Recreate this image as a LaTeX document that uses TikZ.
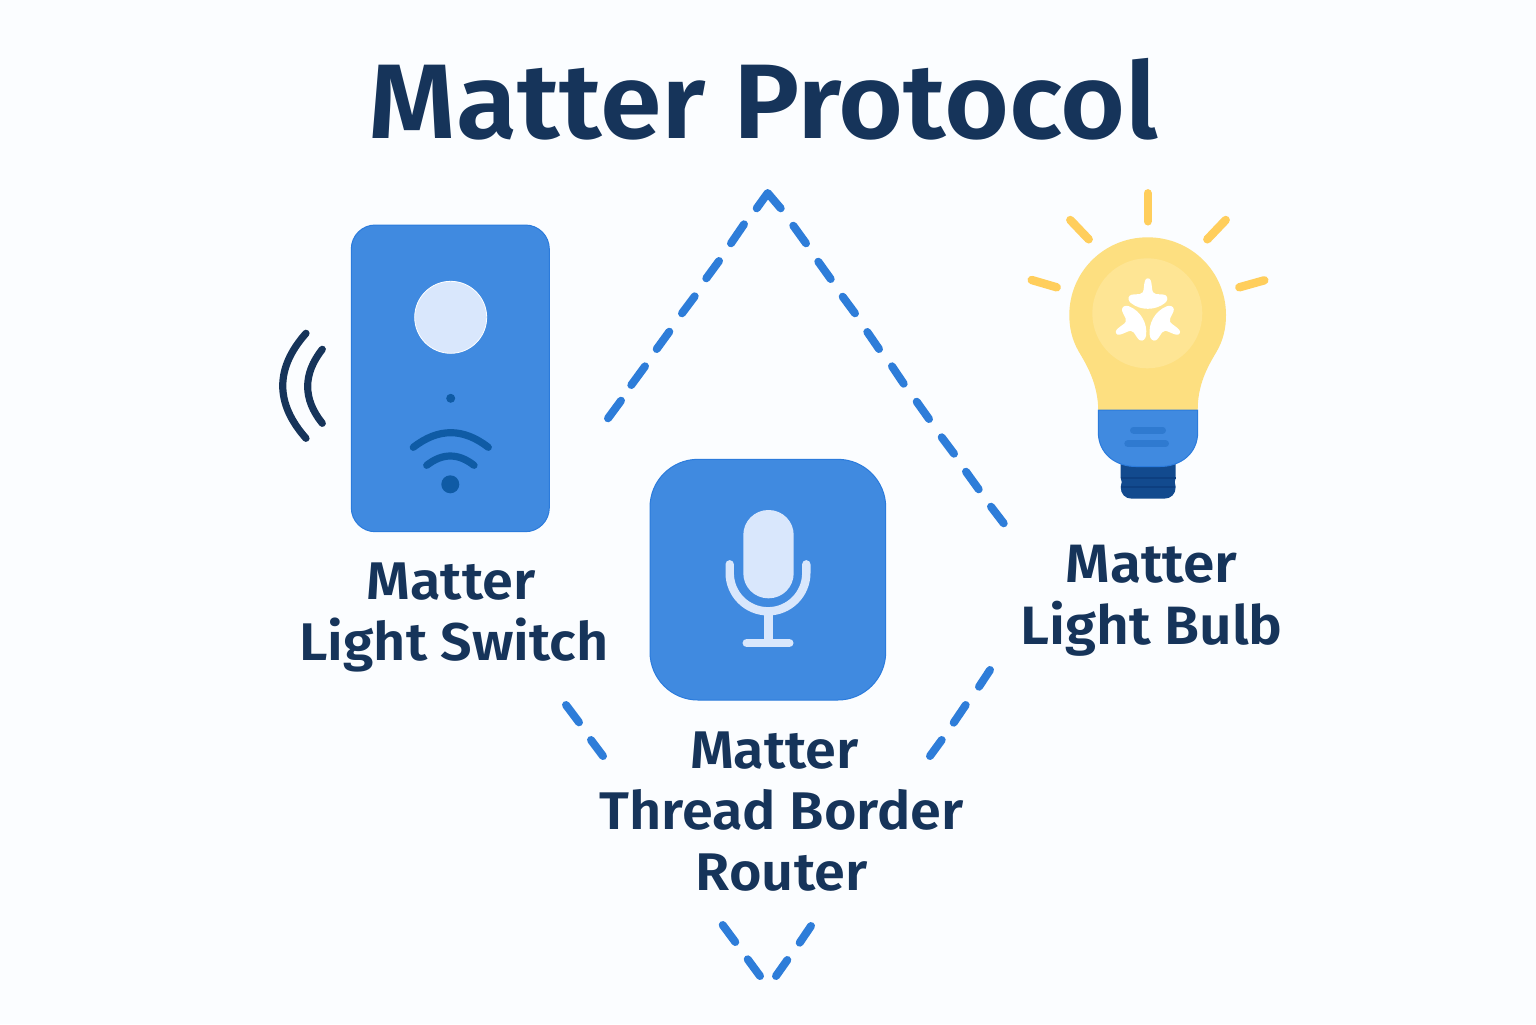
\documentclass[tikz,border=0pt]{standalone}
\usepackage{fontspec}
\setmainfont{Fira Sans}
\newfontfamily\labelfont[FakeStretch=1.053]{Fira Sans SemiBold}
\definecolor{bgc}{HTML}{FBFDFF}
\definecolor{navy}{HTML}{16345A}
\definecolor{panel}{HTML}{408AE0}
\definecolor{edgeblue}{HTML}{2B7BDC}
\definecolor{dashblue}{HTML}{2E7DD9}
\definecolor{deep}{HTML}{0F5BA5}
\definecolor{pale}{HTML}{D9E7FC}
\definecolor{bulby}{HTML}{FDDF80}
\definecolor{bulbin}{HTML}{FEE594}
\definecolor{rayc}{HTML}{FFCE5C}
\definecolor{screwc}{HTML}{124A8E}
\definecolor{screwd}{HTML}{0D3F80}
\definecolor{stripe}{HTML}{2F7AD0}
\tikzset{
  px/.style={x=0.5pt,y=-0.5pt},
  panelbox/.style={fill=panel,draw=edgeblue,line width=0.5pt},
  dashseg/.style={draw=dashblue,line width=4pt,line cap=round,line join=round},
  wave/.style={draw=navy,line width=3.6pt,line cap=round},
  wifi/.style={draw=deep,line width=3.6pt,line cap=round},
  ray/.style={draw=rayc,line width=4.2pt,line cap=round},
  micline/.style={draw=pale,line width=4.2pt,line cap=round},
  titletext/.style={text=navy,inner sep=0pt,anchor=base,font=\labelfont\fontsize{53}{60}\selectfont},
  labeltext/.style={text=navy,inner sep=0pt,anchor=base,align=center,font=\labelfont\fontsize{26.5}{30.5}\selectfont},
}
\begin{document}
\begin{tikzpicture}[px]
\useasboundingbox (0,0) rectangle (1536,1024);
\fill[bgc] (0,0) rectangle (1536,1024);
% title
\node[titletext] (title) at (763.5,138) {Matter Protocol};
% dashed diamond
\draw[dashseg] (756.7,208.3) -- (767.7,193) -- (780.7,208.3);
\foreach \ax/\ay/\bx/\by in {
 744/224.3/731/243.3, 719/261/706.3/278.3, 694.7/296.3/682/313.3,
 669.3/331.7/656.7/349, 645/366.3/631.3/385, 621/400.7/608/418.3,
 793.3/225.7/806/243.3, 818.3/261.7/830.7/279, 842.7/296.7/855/313.3,
 867.3/332/879/349, 892/366.3/903.7/383.7, 916.7/401.7/929/419,
 941.7/437.3/954/453.7, 966/471.7/978.7/489.3, 991/506.7/1003.7/523.3,
 566/705/579/722.3, 591/740/603/756,
 990/670/979/686.7, 965.7/705/953.7/722.7, 941.7/740/930/756,
 722.7/925/735.3/942, 747.7/959.3/760/976,
 811/926/799.7/942.7, 787.3/960/776/976}
  \draw[dashseg] (\ax,\ay) -- (\bx,\by);
% switch
\draw[panelbox,rounded corners=12pt] (351.3,225) rectangle (549.3,531.7);
\fill[pale] (450.7,317.3) circle[radius=36];
\draw[white,line width=0.4pt] (450.7,317.3) circle[radius=36];
\fill[deep] (450.7,398.3) circle[radius=4.5];
\draw[wifi] (413.3,447.3) .. controls (438.3,427.8) and (463.3,427.8) .. (488.3,447.3);
\draw[wifi] (426.7,465.3) .. controls (442.5,452.9) and (458.2,452.9) .. (474,465.3);
\fill[deep] (450.3,484.3) circle[radius=9];
\draw[wave] (306,333.3) .. controls (275,368.3) and (275,403.3) .. (306,438.3);
\draw[wave] (322.3,349.3) .. controls (302.8,374) and (302.8,399) .. (322.3,423.3);
\node[labeltext] (switchlabel) at (454,660) {\hspace*{-3pt}Matter\\Light Switch};
% router
\draw[panelbox,rounded corners=24pt] (650,459.3) rectangle (885.7,700);
\fill[pale,rounded corners=12.5pt] (743.3,510) rectangle (793.7,598.3);
\draw[micline] (729.7,564.3) -- (729.7,573) arc[start angle=180,end angle=0,radius=38.3] -- (806.3,564.3);
\draw[micline,line cap=butt] (768.3,611) -- (768.3,643);
\draw[micline] (746.7,643) -- (789.3,643);
\node[labeltext] (routerlabel) at (781.5,890) {\hspace*{-7pt}Matter\\Thread Border\\Router};
% bulb rays
\draw[ray] (1147.7,193.3) -- (1147.7,221.3);
\draw[ray] (1070.3,220) -- (1088.7,239.3);
\draw[ray] (1225.7,220) -- (1207.3,239.3);
\draw[ray] (1031.7,280) -- (1056.7,287.3);
\draw[ray] (1264.3,280.3) -- (1239.3,287.3);
% screw
\fill[screwc] (1120.7,455) -- (1175.7,455) -- (1175.7,478) -- (1174.7,482) -- (1175.7,487)
  .. controls (1175.7,494) and (1171,498.7) .. (1164,498.7) -- (1132,498.7)
  .. controls (1125,498.7) and (1120.7,494) .. (1120.7,487) -- (1121.7,482) -- (1120.7,478) -- cycle;
\draw[screwd,line width=0.8pt] (1120.7,478) -- (1175.7,478) (1121,487) -- (1175.4,487);
% glass
\fill[bulby] (1098.3,411) .. controls (1098,385) and (1088,367) .. (1079,352)
  .. controls (1072,340) and (1069.3,328) .. (1069.3,315)
  .. controls (1069.3,272) and (1104,237.3) .. (1147.7,237.3)
  .. controls (1191.4,237.3) and (1226,272) .. (1226,315)
  .. controls (1226,328) and (1223.4,340) .. (1216.4,352)
  .. controls (1207.4,367) and (1197.4,385) .. (1197.7,411) -- cycle;
\fill[bulbin] (1147.3,313.3) circle[radius=55];
% matter mark
\foreach \a in {0,120,240}
  \fill[white,shift={(1147.9,315)},rotate=\a] (0,-36.7)
    .. controls (-3,-36.7) and (-3.5,-33) .. (-4,-28)
    .. controls (-4.5,-23) and (-5,-21.5) .. (-8,-21)
    .. controls (-12,-20.5) and (-16,-21) .. (-18,-19.5)
    .. controls (-20.5,-17.5) and (-19.5,-14) .. (-17,-12)
    .. controls (-12,-8) and (-6,-6.2) .. (0,-6.2)
    .. controls (6,-6.2) and (12,-8) .. (17,-12)
    .. controls (19.5,-14) and (20.5,-17.5) .. (18,-19.5)
    .. controls (16,-21) and (12,-20.5) .. (8,-21)
    .. controls (5,-21.5) and (4.5,-23) .. (4,-28)
    .. controls (3.5,-33) and (3,-36.7) .. (0,-36.7) -- cycle;
% base
\draw[panelbox] (1098.3,410) -- (1197.7,410) -- (1197.7,432)
  .. controls (1197.7,454) and (1180,466.5) .. (1160,466.5) -- (1136,466.5)
  .. controls (1116,466.5) and (1098.3,454) .. (1098.3,432) -- cycle;
\draw[stripe,line width=3.5pt,line cap=round] (1133.5,430) -- (1162.5,430);
\draw[stripe,line width=3.5pt,line cap=round] (1127.8,443.7) -- (1165.5,443.7);
\node[labeltext,font=\labelfont\fontsize{27}{31}\selectfont] (bulblabel) at (1151.5,644) {Matter\\Light Bulb};
\end{tikzpicture}
\end{document}
